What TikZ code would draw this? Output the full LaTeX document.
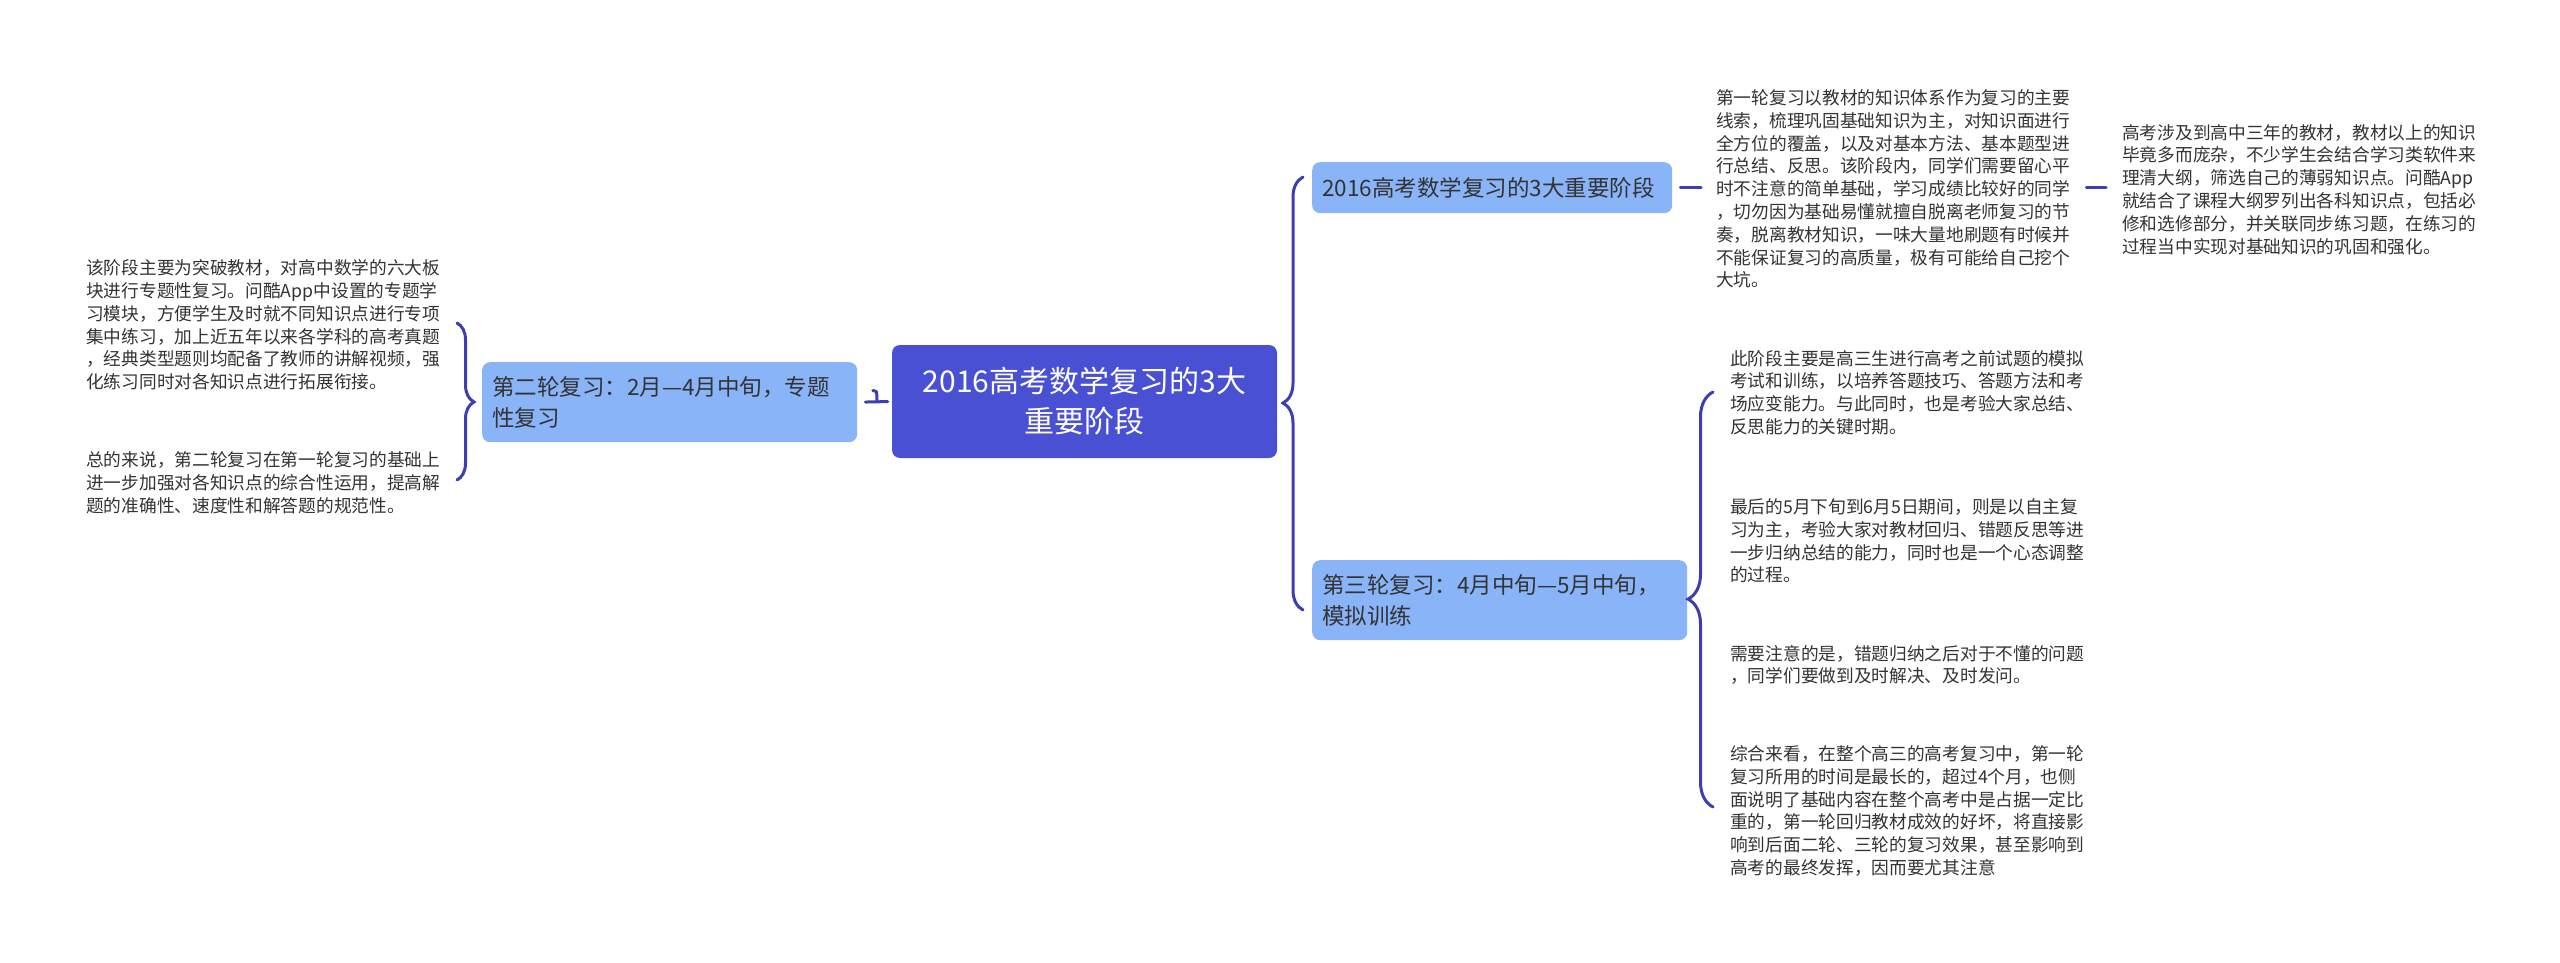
\documentclass[tikz,border=0pt]{standalone}
\usepackage{fontspec}
\setmainfont{Noto Sans CJK SC}
\usetikzlibrary{decorations.pathreplacing}

\definecolor{rootblue}{RGB}{74,80,212}
\definecolor{subblue}{RGB}{138,180,248}
\definecolor{linkblue}{RGB}{62,62,180}
\definecolor{inkgray}{RGB}{51,51,51}

\begin{document}
\begin{tikzpicture}[x=1pt,y=-1pt,
  rootbox/.style={fill=rootblue,rounded corners=8pt,text=white,align=center,
    font=\fontsize{30}{40}\selectfont,inner sep=0pt,minimum width=385pt,minimum height=113pt},
  subbox/.style={fill=subblue,rounded corners=8pt,text=inkgray,align=left,
    font=\fontsize{22.5}{30.5}\selectfont,inner xsep=10pt,inner ysep=0pt},
  note/.style={text=inkgray,align=left,font=\fontsize{17.7}{22.8}\selectfont,inner sep=0pt},
  conn/.style={draw=linkblue,line width=3pt,line cap=round},
  brc/.style={conn,decorate,decoration={brace,amplitude=#1}}]
\fill[white] (0,0) rectangle (2560,963);
\useasboundingbox (0,0) rectangle (2560,963);

% centre
\node[rootbox] (root) at (1084.5,401.5) {2016高考数学复习的3大\\重要阶段};

% left branch
\node[subbox,anchor=north west,text width=355pt,minimum height=80pt] (lbox) at (482,362)
  {第二轮复习：2月—4月中旬，专题\\性复习};
\node[note,anchor=west] (l1) at (86,325) {该阶段主要为突破教材，对高中数学的六大板\\块进行专题性复习。问酷App中设置的专题学\\习模块，方便学生及时就不同知识点进行专项\\集中练习，加上近五年以来各学科的高考真题\\，经典类型题则均配备了教师的讲解视频，强\\化练习同时对各知识点进行拓展衔接。};
\node[note,anchor=west] (l2) at (86,482.5) {总的来说，第二轮复习在第一轮复习的基础上\\进一步加强对各知识点的综合性运用，提高解\\题的准确性、速度性和解答题的规范性。};

% right branches
\node[subbox,anchor=north west,text width=340pt,minimum height=51pt] (s1) at (1312,162)
  {2016高考数学复习的3大重要阶段};
\node[subbox,anchor=north west,text width=355pt,minimum height=80pt] (s2) at (1312,560)
  {第三轮复习：4月中旬—5月中旬，\\模拟训练};

\node[note,anchor=west] (t1) at (1716,189) {第一轮复习以教材的知识体系作为复习的主要\\线索，梳理巩固基础知识为主，对知识面进行\\全方位的覆盖，以及对基本方法、基本题型进\\行总结、反思。该阶段内，同学们需要留心平\\时不注意的简单基础，学习成绩比较好的同学\\，切勿因为基础易懂就擅自脱离老师复习的节\\奏，脱离教材知识，一味大量地刷题有时候并\\不能保证复习的高质量，极有可能给自己挖个\\大坑。};
\node[note,anchor=west] (t2) at (2122,189.5) {高考涉及到高中三年的教材，教材以上的知识\\毕竟多而庞杂，不少学生会结合学习类软件来\\理清大纲，筛选自己的薄弱知识点。问酷App\\就结合了课程大纲罗列出各科知识点，包括必\\修和选修部分，并关联同步练习题，在练习的\\过程当中实现对基础知识的巩固和强化。};

\node[note,anchor=west] (r1) at (1730,392.5) {此阶段主要是高三生进行高考之前试题的模拟\\考试和训练，以培养答题技巧、答题方法和考\\场应变能力。与此同时，也是考验大家总结、\\反思能力的关键时期。};
\node[note,anchor=west] (r2) at (1730,541) {最后的5月下旬到6月5日期间，则是以自主复\\习为主，考验大家对教材回归、错题反思等进\\一步归纳总结的能力，同时也是一个心态调整\\的过程。};
\node[note,anchor=west] (r3) at (1730,665) {需要注意的是，错题归纳之后对于不懂的问题\\，同学们要做到及时解决、及时发问。};
\node[note,anchor=west] (r4) at (1730,811) {综合来看，在整个高三的高考复习中，第一轮\\复习所用的时间是最长的，超过4个月，也侧\\面说明了基础内容在整个高考中是占据一定比\\重的，第一轮回归教材成效的好坏，将直接影\\响到后面二轮、三轮的复习效果，甚至影响到\\高考的最终发挥，因而要尤其注意};

% brace ends
\coordinate (rootA) at (1303,610);
\coordinate (rootB) at (1303,177);
\coordinate (lboxA) at (457,323);
\coordinate (lboxB) at (457,480);
\coordinate (s2A) at (1713,807);
\coordinate (s2B) at (1713,392);

% connectors
\draw[brc=20pt,decoration={aspect=0.478}] (rootA) -- (rootB);
\draw[brc=17pt,decoration={aspect=0.503}] (lboxA) -- (lboxB);
\draw[brc=25pt,decoration={aspect=0.501}] (s2A) -- (s2B);
\draw[conn,shorten <=8pt,shorten >=4pt] (lbox.east) -- (root.west);
\draw[conn] ([xshift=-15pt]root.west) -- ++(0,-7) .. controls +(0,-3) .. ++(-4,-4);
\draw[conn,shorten <=8pt,shorten >=15pt] (s1.east) -- (s1.east -| t1.west);
\draw[conn,shorten <=16pt,shorten >=16pt] (t1.east |- s1.east) -- (t2.west |- s1.east);
\end{tikzpicture}
\end{document}
